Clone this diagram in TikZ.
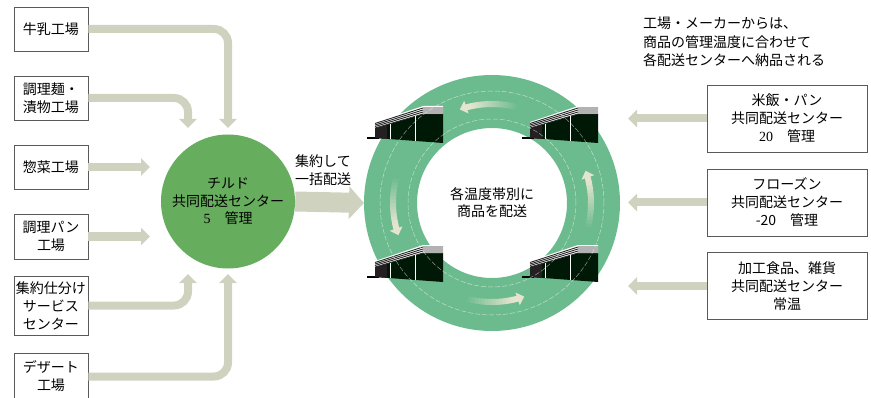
\documentclass[tikz,border=0pt]{standalone}
\usepackage{fontspec}
\setmainfont{Noto Sans CJK JP}
\newfontfamily\numfont{Liberation Serif}
\usetikzlibrary{arrows.meta}

\definecolor{feedbeige}{RGB}{207,210,190}
\definecolor{fadebeige}{RGB}{234,230,210}
\definecolor{chillgreen}{RGB}{103,173,94}
\definecolor{ringgreen}{RGB}{108,187,142}
\definecolor{bodygreen}{RGB}{0,24,6}
\definecolor{endgray}{RGB}{36,31,32}
\definecolor{boxgray}{RGB}{90,90,90}

\tikzset{
  warehouse/.pic={
    \draw[black, line width=1.2pt] (-76,5) -- (-64,5);
    \fill[bodygreen] (-68,5) -- (-68,15) -- (-20,29) -- (0,29) -- (0,0) -- cycle;
    \fill[endgray] (-68,5) -- (-68,15) -- (-56,18.5) -- (-56,4.1) -- cycle;
    \fill[white] (-68,15) -- (-68,21) -- (-20,37) -- (0,37) -- (0,29) -- (-20,29) -- cycle;
    \foreach \t in {0.25,0.5,0.75}
      \draw[black!85, line width=0.9pt] (-68,15+6*\t) -- (-20,29+8*\t) -- (0,29+8*\t);
    \draw[black!85, line width=0.8pt] (-68,15) -- (-20,29) -- (0,29);
    \draw[white, line width=0.4pt] (-53,3.9) -- (-53,19.4);
    \draw[white, line width=0.4pt] (-28,2.1) -- (-28,26.7);
  }
}

\begin{document}
\begin{tikzpicture}[x=1pt, y=1pt, font=\fontsize{14pt}{18pt}\selectfont,
    plant/.style={draw=boxgray, fill=white, line width=0.8pt, minimum width=74pt,
      minimum height=44pt, inner sep=1pt, align=center},
    hub/.style={draw=boxgray, fill=white, line width=0.8pt, minimum width=160pt,
      minimum height=67pt, inner sep=1pt, align=center},
    feed/.style={draw=feedbeige, line width=8pt, rounded corners=14pt,
      -{Triangle[length=9pt,width=17pt]}},
    bulk/.style={draw=feedbeige, line width=20pt, -{Triangle[length=15pt,width=32pt]}},
    guide/.style={draw=white, opacity=0.55, line width=0.5pt, dash pattern=on 5pt off 2pt}]
  \useasboundingbox (0,0) rectangle (871,397);

  \node[plant] (milk) at (51,368) {牛乳工場};
  \node[plant] (noodle) at (51,299) {調理麺・\\漬物工場};
  \node[plant] (deli) at (51,230) {惣菜工場};
  \node[plant, minimum height=45pt] (bread) at (51,160.5) {調理パン\\工場};
  \node[plant, minimum height=59pt] (sorting) at (51,91.5) {集約仕分け\\サービス\\センター};
  \node[plant, minimum height=46pt] (dessert) at (51,20.5) {デザート\\工場};

  \node[circle, fill=chillgreen, minimum size=134pt, inner sep=0pt, align=center,
    font=\fontsize{14pt}{17.5pt}\selectfont] (chilled) at (228,195.5)
    {チルド\\共同配送センター\\{\numfont 5}　管理};

  \coordinate (in1) at (228,269);
  \coordinate (in2) at (188,269);
  \coordinate (in3) at (150,230);
  \coordinate (in4) at (150,160.5);
  \coordinate (in5) at (188,123);
  \coordinate (in6) at (228,123);

  \draw[feed] (milk.east) -| (in1);
  \draw[feed] (noodle.east) -| (in2);
  \draw[feed] (deli.east) -- (in3);
  \draw[feed] (bread.east) -- (in4);
  \draw[feed] (sorting.east) -| (in5);
  \draw[feed] (dessert.east) -| (in6);

  \node[circle, draw=ringgreen, line width=53pt, minimum size=203pt, inner sep=0pt,
    align=center, font=\fontsize{14pt}{17pt}\selectfont] (ring) at (492,194)
    {各温度帯別に\\商品を配送};

  \draw[bulk] (chilled.east) -- (ring.west);
  \node[align=center] (bulktext) at (323,226.5) {集約して\\一括配送};

  % rotating flow around the ring
  \foreach \b in {90,0,180,270} {
    \foreach \i in {0,...,13} {
      \pgfmathsetmacro\a{\b-16+2*\i}
      \pgfmathtruncatemacro\p{7*\i}
      \draw[line width=6pt, draw=fadebeige!\p!ringgreen]
        ([shift={(ring.center)}]\a:99) arc[start angle=\a, end angle=\a+2.3, radius=99];
    }
    \draw[line width=6pt, draw=fadebeige!95!ringgreen, -{Triangle[length=7pt,width=13pt]}]
      ([shift={(ring.center)}]\b+12:99) arc[start angle=\b+12, end angle=\b+19, radius=99];
  }

  \pic at (443,254) {warehouse};
  \pic at (598,254) {warehouse};
  \pic at (443,115) {warehouse};
  \pic at (598,115) {warehouse};

  \draw[guide] (ring.center) circle[radius=84];
  \draw[guide] (ring.center) circle[radius=112];

  \node[hub] (rice) at (787,278.5) {米飯・パン\\共同配送センター\\{\numfont 20}　管理};
  \node[hub] (frozen) at (787,194.5) {フローズン\\共同配送センター\\-20　管理};
  \node[hub] (ambient) at (787,111) {加工食品、雑貨\\共同配送センター\\常温};

  \coordinate (out1) at (628,278.5);
  \coordinate (out2) at (628,194.5);
  \coordinate (out3) at (628,111);

  \draw[feed] (rice.west) -- (out1);
  \draw[feed] (frozen.west) -- (out2);
  \draw[feed] (ambient.west) -- (out3);

  \node[anchor=west, align=left, inner sep=0pt, font=\fontsize{14pt}{18.5pt}\selectfont]
    (note) at (643,355) {工場・メーカーからは、\\商品の管理温度に合わせて\\各配送センターへ納品される};
\end{tikzpicture}
\end{document}
